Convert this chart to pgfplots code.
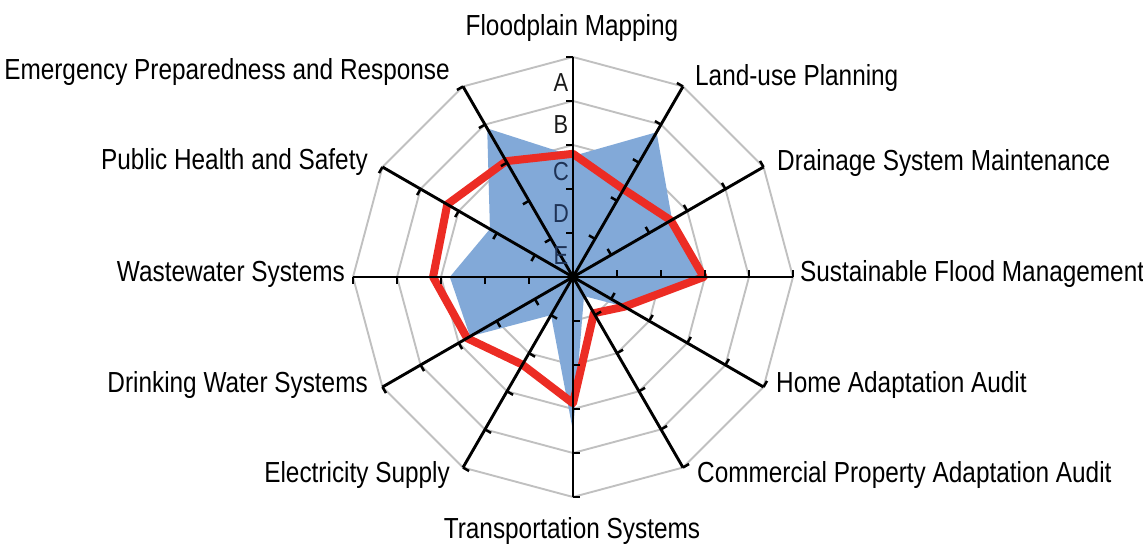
\documentclass[border=0pt]{standalone}
\usepackage{pgfplots}
\pgfplotsset{compat=1.18}
\usepgfplotslibrary{polar}
\usetikzlibrary{calc}
\usepackage{fontspec}
\setmainfont[FakeStretch=0.84]{Liberation Sans}
\definecolor{radblue}{RGB}{130,169,216}
\definecolor{radred}{RGB}{236,44,36}
\definecolor{ringgray}{RGB}{192,192,192}
\definecolor{letterblue}{RGB}{30,50,85}
\pgfdeclareplotmark{htick}{\pgfpathmoveto{\pgfpointorigin}\pgfpathlineto{\pgfqpoint{0pt}{\pgfplotmarksize}}\pgfusepathqstroke}
\begin{document}
\begin{tikzpicture}
\begin{polaraxis}[hide axis, scale only axis, width=440bp, height=440bp,
  xmin=0, xmax=360, ymin=0, ymax=5, clip=false]
% rings
\pgfplotsinvokeforeach{1,2,3,4,5}{
\addplot[ringgray, line width=1.9bp, mark=none] coordinates {(0,#1)(30,#1)(60,#1)(90,#1)(120,#1)(150,#1)(180,#1)(210,#1)(240,#1)(270,#1)(300,#1)(330,#1)(360,#1)};
}
% blue area
\addplot[draw=none, fill=radblue, mark=none] coordinates {(90,2.75)(60,3.8)(30,2.6)(0,2.9)(330,1.35)(300,0.5)(270,3.5)(240,1.0)(210,2.7)(180,2.8)(150,2.18)(120,3.9)(90,2.75)};
% red line
\addplot[radred, line width=8bp, line join=round, mark=none] coordinates {(90,2.8)(60,2.3)(30,2.57)(0,2.97)(330,1.35)(300,0.95)(270,2.87)(240,2.3)(210,2.78)(180,3.18)(150,3.3)(120,3.04)(90,2.8)(60,2.3)};
% spokes and ticks
\pgfplotsinvokeforeach{0,30,60,90,120,150,180,210,240,270,300,330}{
\addplot[black, line width=2.9bp, mark=none] coordinates {(#1,0)(#1,5)};
\addplot[black, line width=2.5bp, only marks, mark=htick, mark size=7bp, mark options={rotate=#1, line width=2.5bp}] coordinates {(#1,1)(#1,2)(#1,3)(#1,4)(#1,5)};
}
\addplot[black, only marks, mark=*, mark size=5.5bp] coordinates {(0,0)};
\coordinate (C) at (axis cs:0,0);
\end{polaraxis}
\begin{scope}[every node/.style={inner sep=0pt, font=\fontsize{29bp}{34bp}\selectfont}]
\node[anchor=base] at ($(C)+(-1bp,241bp)$) {Floodplain Mapping};
\node[anchor=base east] at ($(C)+(-123bp,197bp)$) {Emergency Preparedness and Response};
\node[anchor=base west] at ($(C)+(122bp,191bp)$) {Land-use Planning};
\node[anchor=base west] at ($(C)+(204bp,106bp)$) {Drainage System Maintenance};
\node[anchor=base east] at ($(C)+(-205bp,107bp)$) {Public Health and Safety};
\node[anchor=base west] at ($(C)+(227bp,-5bp)$) {Sustainable Flood Management};
\node[anchor=base east] at ($(C)+(-228bp,-5bp)$) {Wastewater Systems};
\node[anchor=base west] at ($(C)+(203bp,-116bp)$) {Home Adaptation Audit};
\node[anchor=base east] at ($(C)+(-205bp,-116bp)$) {Drinking Water Systems};
\node[anchor=base west] at ($(C)+(124bp,-205bp)$) {Commercial Property Adaptation Audit};
\node[anchor=base east] at ($(C)+(-123bp,-205bp)$) {Electricity Supply};
\node[anchor=base] at ($(C)+(-1bp,-261bp)$) {Transportation Systems};
\end{scope}
\begin{scope}[every node/.style={inner sep=0pt, font=\fontsize{26bp}{30bp}\selectfont}]
\node[text=black!90] at ($(C)+(-12bp,194bp)$) {A};
\node[text=black!90] at ($(C)+(-12bp,152bp)$) {B};
\node[text=letterblue] at ($(C)+(-12bp,105bp)$) {C};
\node[text=letterblue] at ($(C)+(-12bp,63.5bp)$) {D};
\node[text=letterblue] at ($(C)+(-12bp,21bp)$) {E};
\end{scope}
\pgfresetboundingbox
\path[use as bounding box] ($(C)+(-573bp,-267bp)$) rectangle ($(C)+(570bp,277bp)$);
\end{tikzpicture}
\end{document}
